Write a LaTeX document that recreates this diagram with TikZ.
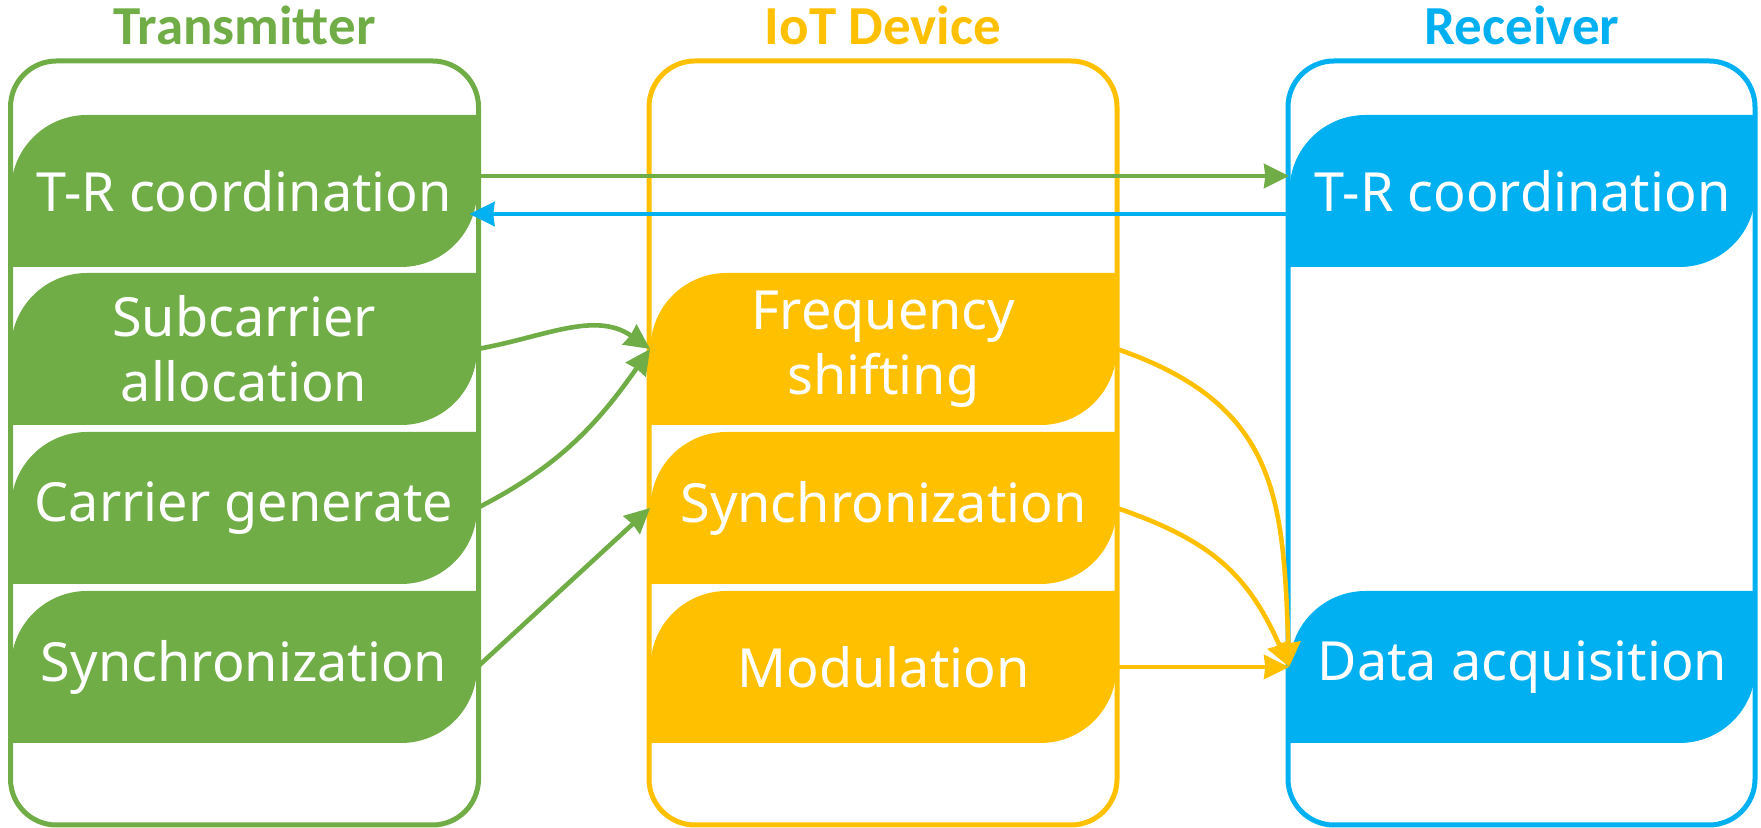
\documentclass[tikz,border=0pt]{standalone}
\usepackage{fontspec}
\setmainfont{Noto Sans}
\newfontfamily\titlefont{Carlito}
\usetikzlibrary{arrows.meta}
\definecolor{cgreen}{RGB}{112,173,71}
\definecolor{cyellow}{RGB}{255,192,0}
\definecolor{cblue}{RGB}{0,176,240}
\begin{document}
\begin{tikzpicture}[x=0.5pt,y=0.5pt,
  outerbox/.style={line width=2.5pt, rounded corners=23pt},
  title/.style={font=\titlefont\bfseries\fontsize{27.5}{32}\selectfont, anchor=base},
  leaf/.style={rectangle, inner sep=0pt, minimum width=233pt, minimum height=76pt,
    text=white, align=center, font=\fontsize{27}{32.5}\selectfont,
    path picture={\fill[#1] (path picture bounding box.south west) -- ++(0,38pt)
      arc[start angle=180,end angle=90,radius=38pt]
      -- (path picture bounding box.north east) -- ++(0,-38pt)
      arc[start angle=0,end angle=-90,radius=38pt] -- cycle;}},
  arr/.style={line width=2.3pt, -{Stealth[length=12.5pt,width=12pt,inset=0.6pt]}},
]
\useasboundingbox (0,0) rectangle (1761,828);
% outer containers
\draw[outerbox, cgreen] (10.5,3) rectangle (478.5,767);
\draw[outerbox, cyellow] (649,3) rectangle (1117,767);
\draw[outerbox, cblue] (1288,3) rectangle (1755,767);
% titles
\node[title, text=cgreen] (ttx) at (244.5,783) {Transmitter};
\node[title, text=cyellow] (tiot) at (883,783) {IoT Device};
\node[title, text=cblue] (trx) at (1522,783) {Receiver};
% transmitter
\node[leaf=cgreen] (t1) at (244,637) {T-R coordination};
\node[leaf=cgreen] (t2) at (244,479) {Subcarrier\\allocation};
\node[leaf=cgreen] (t3) at (244,320) {Carrier generate};
\node[leaf=cgreen] (t4) at (244,161) {Synchronization};
% IoT device
\node[leaf=cyellow] (f2) at (883.5,479) {Frequency\\shifting};
\node[leaf=cyellow] (s3) at (883.5,320) {Synchronization};
\node[leaf=cyellow] (m4) at (883.5,161) {Modulation};
% receiver
\node[leaf=cblue] (r1) at (1522.5,637) {T-R coordination};
\node[leaf=cblue] (r4) at (1522.5,161) {Data acquisition};
% connectors
\draw[arr, cgreen] ([yshift=7.5pt]t1.east) -- ([yshift=7.5pt]r1.west);
\draw[arr, cblue] ([yshift=-11.5pt]r1.west) -- ([yshift=-11.5pt,xshift=-4pt]t1.east);
\draw[arr, cgreen] (t2.east) to[out=10,in=145] (f2.west);
\draw[arr, cgreen] (t3.east) to[out=27,in=-125] (f2.west);
\draw[arr, cgreen] (t4.east) -- (s3.west);
\draw[arr, cyellow] (f2.east) to[out=-19,in=92,looseness=1.2] (r4.west);
\draw[arr, cyellow] (s3.east) to[out=-19,in=114,looseness=1.1] (r4.west);
\draw[arr, cyellow] (m4.east) -- (r4.west);
\end{tikzpicture}
\end{document}
